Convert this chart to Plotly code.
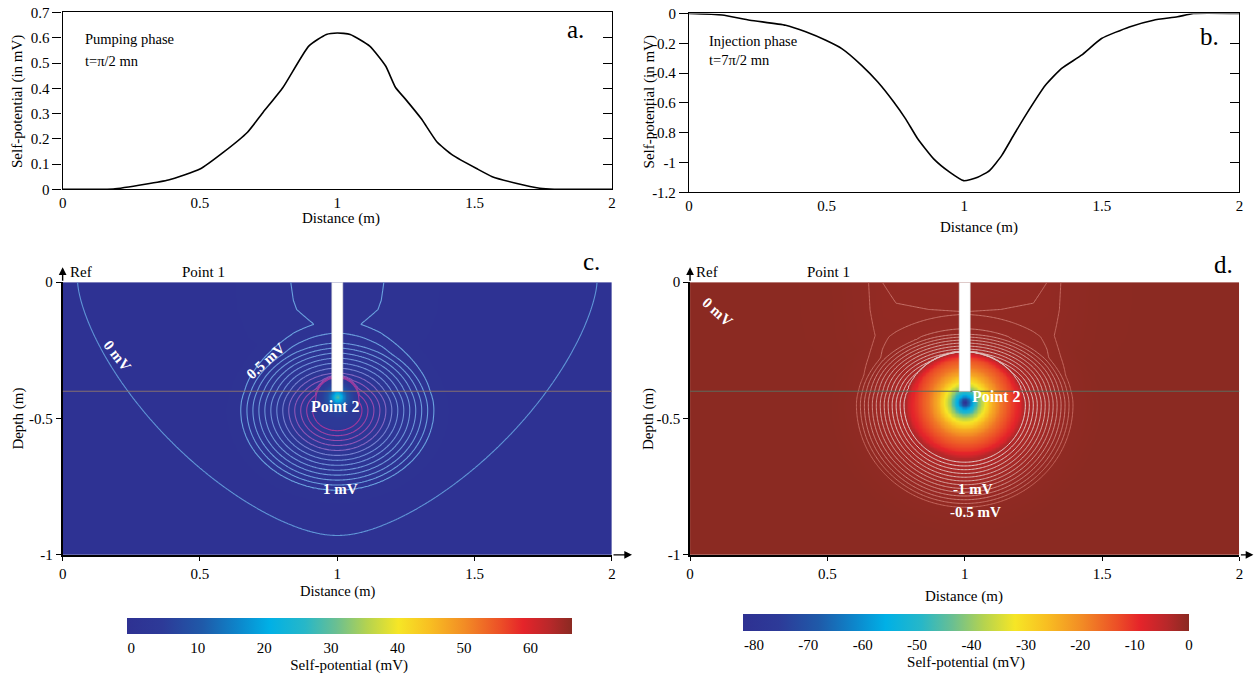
import numpy as np
import plotly.graph_objects as go

W, H = 1256, 674
FONT = "Liberation Serif"

# ---------------- data: panel a (pumping phase) ----------------
dist_a = [0, 0.1, 0.184, 0.3, 0.385, 0.5, 0.587, 0.673, 0.73, 0.802, 0.896, 0.96, 1.0,
          1.047, 1.118, 1.176, 1.212, 1.248, 1.306, 1.363, 1.42, 1.507, 1.564, 1.65,
          1.737, 1.79, 1.9, 2.0]
sp_a = [0, 0, 0.001, 0.02, 0.037, 0.08, 0.148, 0.226, 0.305, 0.403, 0.567, 0.613, 0.619,
        0.613, 0.567, 0.488, 0.403, 0.357, 0.279, 0.187, 0.135, 0.082, 0.05, 0.024,
        0.004, 0, 0, 0]

# ---------------- data: panel b (injection phase) ----------------
dist_b = [0, 0.12, 0.221, 0.351, 0.424, 0.497, 0.555, 0.627, 0.686, 0.744, 0.787, 0.831,
          0.889, 0.947, 0.998, 1.049, 1.092, 1.136, 1.179, 1.223, 1.295, 1.353, 1.426,
          1.499, 1.6, 1.688, 1.775, 1.833, 2.0]
sp_b = [0, -0.01, -0.045, -0.079, -0.123, -0.18, -0.236, -0.348, -0.46, -0.594, -0.707,
        -0.841, -0.976, -1.065, -1.122, -1.099, -1.054, -0.954, -0.819, -0.684, -0.482,
        -0.37, -0.28, -0.168, -0.09, -0.045, -0.022, 0, 0]

# ---------------- data: sections c and d (SP read from the maps, mV) ----------------
# concentric field around Point 2 (distance in m)
circ_r = [0, 0.08, 0.35, 0.42, 0.45, 3.0]
circ_c = [5, 3.6, 0.5, 0.1, 0, 0]
disk_rd = [0, 0.185, 0.2, 0.215, 3.0]
disk_d = [-8.4, -6.4, -4.4, 0, 0]
halo_rd = [0, 0.215, 0.4, 0.5, 3.0]
halo_d = [-3.6, -3.6, -0.4, 0, 0]
# sharp peak at the tip of the well
spike_r = [0, 0.01, 0.02, 0.03, 0.045, 0.06, 0.08, 3.0]
spike_c = [26, 20, 13, 8, 4, 1.5, 0, 0]
spike_rd = [0, 0.015, 0.03, 0.05, 0.07, 0.1, 0.13, 0.16, 0.185, 3.0]
spike_d = [-70, -55, -42, -30, -22, -13, -7, -3, 0, 0]
# near-surface field versus horizontal distance from the well (m)
surf_dx = [0, 0.16, 0.3, 0.5, 0.65, 3.0]
surf_c = [0.62, 0.5, 0.25, 0.06, 0, 0]
surf_dxd = [0, 0.25, 0.3, 0.35, 0.5, 0.7, 3.0]
surf_d = [-0.8, -0.78, -0.75, -0.5, -0.1, 0, 0]
depth_m = [0, 0.1, 0.2, 0.3, 0.4, 1.0]
depth_w = [1, 0.95, 0.8, 0.4, 0, 0]
# weak outer shell around the well head (the "0 mV" line)
shell_r = [0, 0.5, 0.8, 0.95, 1.1, 3.0]
shell_c = [0.02, 0.012, 0.006, 0.003, 0, 0]

center_c = (1.0, -0.47)
center_d = (1.0, -0.45)
tip = (1.0, -0.42)
well_x = (0.98, 1.02)
well_depth = -0.40
water_level = -0.40

levels_c = dict(start=0.5, end=3.5, size=0.25)
level_zero_c = 0.003
levels_d = dict(start=-3.5, end=-0.5, size=0.25)

xtick = [0, 0.5, 1, 1.5, 2]
xtick_txt = ["0", "0.5", "1", "1.5", "2"]
ytick_a = [0, 0.1, 0.2, 0.3, 0.4, 0.5, 0.6, 0.7]
ytick_a_txt = ["0", "0.1", "0.2", "0.3", "0.4", "0.5", "0.6", "0.7"]
ytick_b = [-1.2, -1, -0.8, -0.6, -0.4, -0.2, 0]
ytick_b_txt = ["-1.2", "-1", "-0.8", "-0.6", "-0.4", "-0.2", "0"]
ytick_cd = [-1, -0.5, 0]
ytick_cd_txt = ["-1", "-0.5", "0"]
cb_c_ticks = [0, 10, 20, 30, 40, 50, 60]
cb_d_ticks = [-80, -70, -60, -50, -40, -30, -20, -10, 0]

cs = [
    [0.00, '#2e3192'], [0.08, '#2d3a98'], [0.17, '#1f5aa9'], [0.25, '#0d86cb'],
    [0.32, '#00b0e6'], [0.40, '#27b7c8'], [0.47, '#6abf92'], [0.54, '#b5d34f'],
    [0.61, '#f6e626'], [0.68, '#f8bf22'], [0.76, '#f28b25'], [0.84, '#ec4e27'],
    [0.89, '#e5242a'], [0.95, '#b8282a'], [1.00, '#8b2a22'],
]

# ---------------- grids (table built from the arrays above) ----------------
xg = np.linspace(0, 2, 401)
yg = np.linspace(-1, 0, 201)
X, Y = np.meshgrid(xg, yg)
dx = np.abs(X - 1)
s_c = np.where(Y > center_c[1], 1.4, 1.2)
rc = np.hypot(X - center_c[0], (Y - center_c[1]) * s_c)
rd1 = np.hypot(X - center_d[0], (Y - center_d[1]) * 1.1)
s_d = np.where(Y > center_d[1], 1.5, 1.05)
rd2 = np.hypot(X - center_d[0], (Y - center_d[1]) * s_d)
rt = np.hypot(X - tip[0], Y - tip[1])
rtd = np.hypot(X - center_d[0], Y - (center_d[1] + 0.01))
wz = np.interp(-Y, depth_m, depth_w)
qx = (dx ** 2 + 0.01) ** 0.75 - 0.001
rf = (qx + np.abs(Y) ** 1.5) ** (1 / 1.5)
Zc = (np.interp(rc, circ_r, circ_c) + np.interp(rt, spike_r, spike_c)
      + np.interp(dx, surf_dx, surf_c) * wz + np.interp(rf, shell_r, shell_c))
Zd = (np.interp(rd1, disk_rd, disk_d) + np.interp(rd2, halo_rd, halo_d)
      + np.interp(rtd, spike_rd, spike_d) + np.interp(dx, surf_dxd, surf_d) * wz)

# pixel positions below are as read on the reference; this maps them onto the page
SX, BX, SY, BY = 0.993, 3.4, 0.970, 8.5


def cx(x):
    return (x - BX) / SX


def cy(y):
    return (y - BY) / SY


def px(x, y):
    return cx(x) / W, 1 - cy(y) / H


def dom_x(a, b):
    return [cx(a) / W, cx(b) / W]


def dom_y(top, bottom):
    return [1 - cy(bottom) / H, 1 - cy(top) / H]


fig = go.Figure()

fig.add_trace(go.Scatter(x=dist_a, y=sp_a, mode='lines', line=dict(color='black', width=1.6, shape='spline', smoothing=0.5),
                         xaxis='x', yaxis='y', showlegend=False, hoverinfo='skip'))
fig.add_trace(go.Scatter(x=dist_b, y=sp_b, mode='lines', line=dict(color='black', width=1.6, shape='spline', smoothing=0.5),
                         xaxis='x2', yaxis='y2', showlegend=False, hoverinfo='skip'))
fig.add_trace(go.Scatter(x=[0], y=[0], mode='markers', marker=dict(opacity=0), xaxis='x', yaxis='y5', showlegend=False, hoverinfo='skip'))
fig.add_trace(go.Scatter(x=[0], y=[0], mode='markers', marker=dict(opacity=0), xaxis='x2', yaxis='y6', showlegend=False, hoverinfo='skip'))

# panel c
fig.add_trace(go.Heatmap(x=xg, y=yg, z=Zc, coloraxis='coloraxis', zsmooth='best', xaxis='x3', yaxis='y3', hoverinfo='skip'))
fig.add_trace(go.Contour(x=xg, y=yg, z=Zc, xaxis='x3', yaxis='y3', showscale=False, hoverinfo='skip',
                         contours=dict(coloring='lines', **levels_c), zmin=0.5, zmax=3.5,
                         colorscale=[[0, '#6aa2de'], [0.55, '#6f8cd6'], [0.7, '#8a5cbc'], [1, '#a4389c']],
                         line=dict(width=1.1)))
fig.add_trace(go.Contour(x=xg, y=yg, z=Zc, xaxis='x3', yaxis='y3', showscale=False, hoverinfo='skip',
                         contours=dict(coloring='lines', start=level_zero_c, end=level_zero_c, size=1),
                         colorscale=[[0, '#5f95d6'], [1, '#5f95d6']], line=dict(width=1.1)))
# panel d
fig.add_trace(go.Heatmap(x=xg, y=yg, z=Zd, coloraxis='coloraxis2', zsmooth='best', xaxis='x4', yaxis='y4', hoverinfo='skip'))
fig.add_trace(go.Contour(x=xg, y=yg, z=Zd, xaxis='x4', yaxis='y4', showscale=False, hoverinfo='skip',
                         contours=dict(coloring='lines', **levels_d), zmin=-3.5, zmax=-0.5,
                         colorscale=[[0, '#e6d2d0'], [0.5, '#d6a49e'], [1, '#c4685f']],
                         line=dict(width=1)))

tf = dict(family=FONT, size=15, color='black')
base_x = dict(range=[0, 2], tickvals=xtick, ticktext=xtick_txt, showgrid=False, zeroline=False,
              showline=True, linecolor='black', linewidth=1.3, tickfont=tf, fixedrange=True)
base_y = dict(showgrid=False, zeroline=False, showline=True, linecolor='black', linewidth=1.3,
              tickfont=tf, ticks='outside', ticklen=9, tickcolor='black', fixedrange=True)

cbc_x0, cbc_x1, cbc_y = cx(126), cx(571), cy(619)
cbd_x0, cbd_x1, cbd_y = cx(742), cx(1188), cy(615)

layout = dict(
    width=W, height=H, margin=dict(l=0, r=0, t=0, b=0),
    paper_bgcolor='white', plot_bgcolor='rgba(0,0,0,0)', showlegend=False,
    font=dict(family=FONT, size=15, color='black'),
    xaxis=dict(base_x, domain=dom_x(62, 611), anchor='y', mirror=True, ticks=''),
    yaxis=dict(base_y, domain=dom_y(13, 190), anchor='x', range=[0, 0.7], tickvals=ytick_a, ticktext=ytick_a_txt),
    yaxis5=dict(base_y, overlaying='y', side='right', anchor='x', range=[0, 0.7], tickvals=ytick_a,
                ticks='inside', showticklabels=False),
    xaxis2=dict(base_x, domain=dom_x(688, 1238), anchor='y2', mirror=True, ticks=''),
    yaxis2=dict(base_y, domain=dom_y(14, 193), anchor='x2', range=[-1.2, 0], tickvals=ytick_b, ticktext=ytick_b_txt),
    yaxis6=dict(base_y, overlaying='y2', side='right', anchor='x2', range=[-1.2, 0], tickvals=ytick_b,
                ticks='inside', showticklabels=False),
    xaxis3=dict(base_x, domain=dom_x(62, 611), anchor='y3', ticks='outside', ticklen=4, tickcolor='black', linewidth=1.6),
    yaxis3=dict(base_y, domain=dom_y(283, 556), anchor='x3', range=[-1, 0], tickvals=ytick_cd, ticktext=ytick_cd_txt,
                ticklen=5, linewidth=1.6),
    xaxis4=dict(base_x, domain=dom_x(689, 1238), anchor='y4', ticks='outside', ticklen=4, tickcolor='black', linewidth=1.6),
    yaxis4=dict(base_y, domain=dom_y(283, 556), anchor='x4', range=[-1, 0], tickvals=ytick_cd, ticktext=ytick_cd_txt,
                ticklen=5, linewidth=1.6),
    coloraxis=dict(colorscale=cs, cmin=-0.7, cmax=66.2,
                   colorbar=dict(orientation='h', x=cbc_x0 / W, xanchor='left', y=1 - cbc_y / H,
                                 yanchor='top', len=(cbc_x1 - cbc_x0) / W, lenmode='fraction', thickness=16,
                                 xpad=0, ypad=0, outlinewidth=0, tickvals=cb_c_ticks, ticks='', tickfont=tf,
                                 title=dict(text='Self-potential (mV)', side='bottom', font=tf))),
    coloraxis2=dict(colorscale=cs, cmin=-82, cmax=0,
                    colorbar=dict(orientation='h', x=cbd_x0 / W, xanchor='left', y=1 - cbd_y / H,
                                  yanchor='top', len=(cbd_x1 - cbd_x0) / W, lenmode='fraction', thickness=17,
                                  xpad=0, ypad=0, outlinewidth=0, tickvals=cb_d_ticks,
                                  ticktext=[str(v) for v in cb_d_ticks], ticks='', tickfont=tf,
                                  title=dict(text='Self-potential (mV)', side='bottom', font=tf))),
)
fig.update_layout(**layout)

shapes = []
for xa, ya, lc in [('x3', 'y3', '#857070'), ('x4', 'y4', '#5e6a5c')]:
    shapes.append(dict(type='line', xref=xa, yref=ya, x0=0, x1=2, y0=water_level, y1=water_level,
                       line=dict(color=lc, width=1), layer='above'))
    shapes.append(dict(type='rect', xref=xa, yref=ya, x0=well_x[0], x1=well_x[1], y0=well_depth, y1=0,
                       fillcolor='white', line=dict(color='#d8d8d8', width=0.6), layer='above'))
fig.update_layout(shapes=shapes)

ann = []


def text_px(x, y, t, size=15, xanchor='center', angle=0, color='black'):
    fx, fy = px(x, y)
    ann.append(dict(xref='paper', yref='paper', x=fx, y=fy, text=t, showarrow=False, xanchor=xanchor,
                    yanchor='middle', textangle=angle, font=dict(family=FONT, size=size, color=color)))


text_px(82, 40, 'Pumping phase', 14.5, 'left')
text_px(82, 62, 't=π/2 mn', 14.5, 'left')
text_px(575, 30, 'a.', 25)
text_px(706, 42, 'Injection phase', 14.5, 'left')
text_px(706, 61, 't=7π/2 mn', 14.5, 'left')
text_px(1208, 37, 'b.', 25)
text_px(591, 262, 'c.', 25)
text_px(1222, 265, 'd.', 25)
text_px(17, 102, 'Self-potential (in mV)', 15, angle=-90)
text_px(648, 103, 'Self-potential (in mV)', 15, angle=-90)
text_px(17, 420, 'Depth (m)', 15, angle=-90)
text_px(647, 420, 'Depth (m)', 15, angle=-90)
text_px(340, 219, 'Distance (m)', 15)
text_px(978, 228, 'Distance (m)', 15)
text_px(337, 593, 'Distance (m)', 14.5)
text_px(963, 598, 'Distance (m)', 15)
text_px(203, 273, 'Point 1', 15)
text_px(827, 273, 'Point 1', 15)
text_px(67, 273, 'Ref', 15, 'left')
text_px(693, 273, 'Ref', 15, 'left')

# axis arrows
for tp, off in [((62, 268), (0, 15)), ((631, 556), (-20, 0)), ((689, 268), (0, 15)), ((1252, 556), (-14, 0))]:
    fx, fy = px(*tp)
    ann.append(dict(xref='paper', yref='paper', x=fx, y=fy, ax=off[0], ay=off[1], axref='pixel', ayref='pixel',
                    text='', showarrow=True, arrowhead=2, arrowsize=1.1, arrowwidth=1.4, arrowcolor='black',
                    standoff=0, startstandoff=0))


def text_data(xa, ya, x, y, t, size=15, angle=0):
    ann.append(dict(xref=xa, yref=ya, x=x, y=y, text='<b>' + t + '</b>', showarrow=False, textangle=angle,
                    font=dict(family=FONT, size=size, color='white')))


text_data('x3', 'y3', 0.2, -0.27, '0 mV', 15, 52)
text_data('x3', 'y3', 0.74, -0.29, '0.5 mV', 15, -42)
text_data('x3', 'y3', 1.01, -0.757, '1 mV', 15)
text_data('x3', 'y3', 0.99, -0.455, 'Point 2', 16)
text_data('x4', 'y4', 0.1, -0.11, '0 mV', 15, 42)
text_data('x4', 'y4', 1.03, -0.757, '-1 mV', 15)
text_data('x4', 'y4', 1.04, -0.842, '-0.5 mV', 15)
text_data('x4', 'y4', 1.115, -0.42, 'Point 2', 16)

fig.update_layout(annotations=ann)
fig.write_html("out.html", config={'displayModeBar': False},
               post_script="document.body.style.margin='0px';document.body.style.padding='0px';"
                           "document.documentElement.style.overflow='hidden';")
